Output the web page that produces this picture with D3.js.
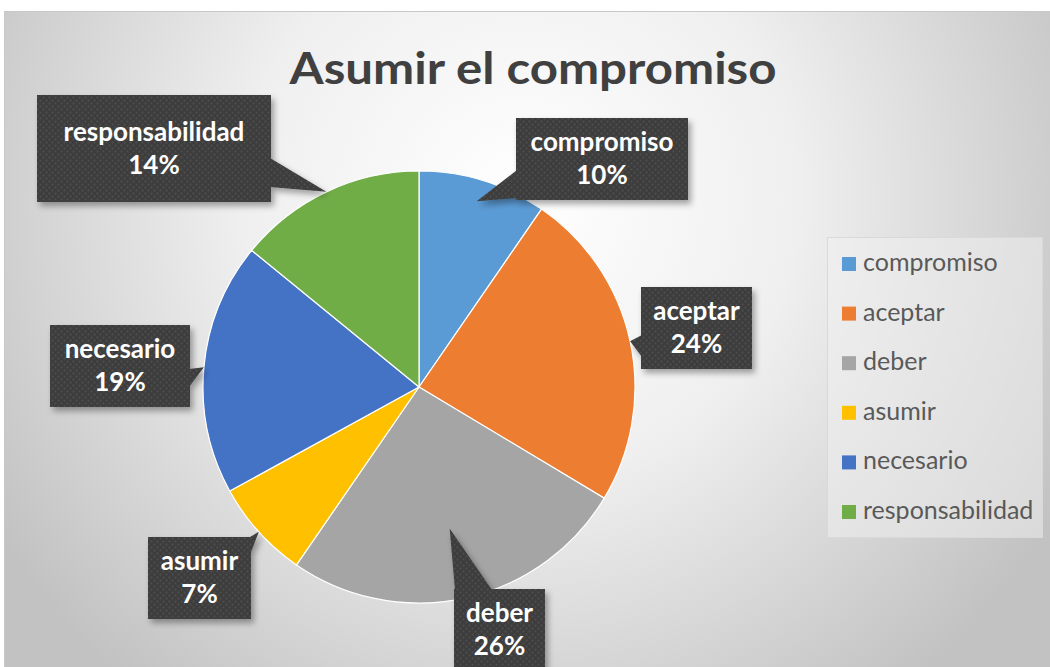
<!DOCTYPE html>
<html>
<head>
<meta charset="utf-8">
<script src="https://cdn.jsdelivr.net/npm/d3@7"></script>
<style>
  body { margin: 0; background: #fff; }
  svg { display: block; }
</style>
</head>
<body>
<div class="chart"></div>
<script>
// data
var categories = ["compromiso", "aceptar", "deber", "asumir", "necesario", "responsabilidad"];
var values = [9.6, 24.0, 26.0, 7.4, 18.9, 14.1];
var colors = ["#5B9BD5", "#ED7D31", "#A5A5A5", "#FFC000", "#4472C4", "#70AD47"];
var title = "Asumir el compromiso";

// callout boxes (layout only): box, where the pointer base sits, how deep the tip goes
var boxes = {
    "compromiso":      {x: 516, y: 118, w: 172, h: 82,  edge: "left",  b0: 52, b1: 80, tip: 0.9},
    "aceptar":         {x: 641, y: 287, w: 111, h: 82,  edge: "left",  b0: 48, b1: 70, tip: 1.0},
    "deber":           {x: 454, y: 589, w: 91,  h: 82,  edge: "top",   b0: 1,  b1: 38, tip: 0.67},
    "asumir":          {x: 148, y: 537, w: 103, h: 82,  edge: "right", b0: 0,  b1: 18, tip: 1.0},
    "necesario":       {x: 50,  y: 325, w: 140, h: 82,  edge: "right", b0: 44, b1: 62, tip: 1.0},
    "responsabilidad": {x: 37,  y: 95,  w: 234, h: 107, edge: "right", b0: 63, b1: 92, tip: 1.0}
};

var width = 1050, height = 667;
var cx = 419, cy = 387, r = 216;
var font = "Lato, 'Open Sans', sans-serif";

var svg = d3.select(".chart")
    .append("svg")
    .attr("width", width)
    .attr("height", height);

var defs = svg.append("defs");

var grad = defs.append("radialGradient")
    .attr("id", "bg")
    .attr("gradientUnits", "userSpaceOnUse")
    .attr("cx", 520).attr("cy", 200).attr("r", 620);
grad.append("stop").attr("offset", "0%").attr("stop-color", "#ffffff");
grad.append("stop").attr("offset", "45%").attr("stop-color", "#efefef");
grad.append("stop").attr("offset", "100%").attr("stop-color", "#c2c2c2");

var pat = defs.append("pattern")
    .attr("id", "dots")
    .attr("patternUnits", "userSpaceOnUse")
    .attr("width", 6).attr("height", 6);
pat.append("rect").attr("width", 6).attr("height", 6).attr("fill", "#3d3d3d");
pat.append("circle").attr("cx", 1.5).attr("cy", 1.5).attr("r", 1).attr("fill", "#4f4f4f");
pat.append("circle").attr("cx", 4.5).attr("cy", 4.5).attr("r", 1).attr("fill", "#4f4f4f");

var shadow = defs.append("filter")
    .attr("id", "shadow")
    .attr("x", "-20%").attr("y", "-20%").attr("width", "150%").attr("height", "150%");
shadow.append("feDropShadow")
    .attr("dx", 3).attr("dy", 4).attr("stdDeviation", 3)
    .attr("flood-color", "#000").attr("flood-opacity", 0.35);

// chart area
svg.append("rect")
    .attr("x", 4.5).attr("y", 11.5)
    .attr("width", width - 4).attr("height", height)
    .attr("fill", "url(#bg)")
    .attr("stroke", "#c8c8c8");

svg.append("text")
    .attr("x", 533).attr("y", 84)
    .attr("text-anchor", "middle")
    .attr("font-family", font)
    .attr("font-weight", "bold")
    .attr("font-size", 44)
    .attr("fill", "#404040")
    .attr("textLength", 487)
    .attr("lengthAdjust", "spacingAndGlyphs")
    .text(title);

var data = categories.map(function(c, i) {
    return {name: c, value: values[i], color: colors[i]};
});

var pie = d3.pie()
    .sort(null)
    .value(function(d) { return d.value; });

var arc = d3.arc().innerRadius(0).outerRadius(r);

var arcs = pie(data);
var total = d3.sum(values);

var g = svg.append("g")
    .attr("transform", "translate(" + cx + "," + cy + ")");

g.selectAll("path")
    .data(arcs)
    .enter()
    .append("path")
    .attr("d", arc)
    .attr("fill", function(d) { return d.data.color; })
    .attr("stroke", "#ffffff")
    .attr("stroke-width", 1.2);

// callouts
function calloutPath(b, tx, ty) {
    var p1, p2;
    if (b.edge === "left") { p1 = [b.x + 1, b.y + b.b0]; p2 = [b.x + 1, b.y + b.b1]; }
    if (b.edge === "right") { p1 = [b.x + b.w - 1, b.y + b.b0]; p2 = [b.x + b.w - 1, b.y + b.b1]; }
    if (b.edge === "top") { p1 = [b.x + b.b0, b.y + 1]; p2 = [b.x + b.b1, b.y + 1]; }
    return "M" + tx + "," + ty + "L" + p1[0] + "," + p1[1] + "L" + p2[0] + "," + p2[1] + "Z";
}

var callouts = svg.append("g");

arcs.forEach(function(d) {
    var b = boxes[d.data.name];
    var a = (d.startAngle + d.endAngle) / 2;
    var tx = cx + Math.sin(a) * r * b.tip,
        ty = cy - Math.cos(a) * r * b.tip;
    var cg = callouts.append("g").attr("filter", "url(#shadow)");
    cg.append("path")
        .attr("d", calloutPath(b, tx, ty))
        .attr("fill", "url(#dots)");
    cg.append("rect")
        .attr("x", b.x).attr("y", b.y)
        .attr("width", b.w).attr("height", b.h)
        .attr("fill", "url(#dots)");
    var mid = b.y + b.h / 2;
    var t = callouts.append("text")
        .attr("text-anchor", "middle")
        .attr("font-family", font)
        .attr("font-weight", "bold")
        .attr("font-size", 26)
        .attr("fill", "#ffffff");
    t.append("tspan")
        .attr("x", b.x + b.w / 2).attr("y", mid - 8)
        .text(d.data.name);
    t.append("tspan")
        .attr("x", b.x + b.w / 2).attr("y", mid + 25)
        .text(Math.round(d.data.value / total * 100) + "%");
});

// legend
var legend = svg.append("g");
legend.append("rect")
    .attr("x", 827.5).attr("y", 237.5)
    .attr("width", 215).attr("height", 300)
    .attr("fill", "#f2f2f2")
    .attr("fill-opacity", 0.5)
    .attr("stroke", "#d9d9d9");

var ly = d3.scalePoint()
    .domain(categories)
    .range([264, 512]);

var items = legend.selectAll(".item")
    .data(data)
    .enter()
    .append("g")
    .attr("class", "item")
    .attr("transform", function(d) { return "translate(842," + ly(d.name) + ")"; });

items.append("rect")
    .attr("x", 0).attr("y", -7)
    .attr("width", 14).attr("height", 14)
    .attr("fill", function(d) { return d.color; });

items.append("text")
    .attr("x", 21).attr("y", 7)
    .attr("font-family", font)
    .attr("font-size", 25)
    .attr("fill", "#595959")
    .text(function(d) { return d.name; });
</script>
</body>
</html>
